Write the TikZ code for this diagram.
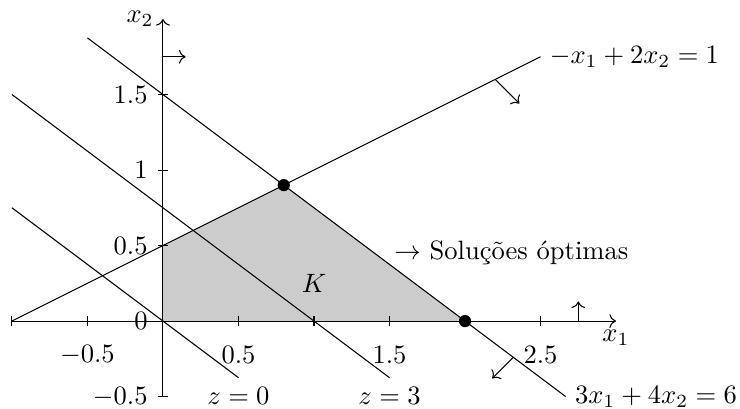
\documentclass[tikz,border=0pt]{standalone}
\usepackage{amsmath,amssymb}
\usetikzlibrary{arrows.meta,positioning,calc}
\tikzset{
axisline/.style={->, thin},
tickmark/.style={thin},
constraint/.style={thin, draw=black},
levelline/.style={thin, draw=black},
feasible/.style={fill=black!20, draw=none},
vertexdot/.style={circle, fill=black, inner sep=0pt, minimum size=4.6pt},
halfplane/.style={->, thin}
}

\begin{document}
\begin{tikzpicture}[x=2cm, y=2cm]
  \useasboundingbox (-1.079,-0.576) rectangle (3.821,2.126);
  % feasible region
  \fill[feasible] (0,0) -- (0,0.5) -- (0.8,0.9) -- (2,0) -- cycle;
  \node (K) at (1,0.25) {$K$};
  % axes and ticks
  \draw[axisline] (-1,0) -- (3,0) node[below] (xlab) {$x_1$};
  \draw[axisline] (0,-0.5) -- (0,2) node[left] (ylab) {$x_2$};
  \foreach \x in {-1,-0.5,0.5,1,1.5,2,2.5}
    \draw[tickmark] (\x,0) ++(0,-2pt) -- ++(0,4pt);
  \foreach \y in {-0.5,0.5,1,1.5}
    \draw[tickmark] (0,\y) ++(-2pt,0) -- ++(4pt,0);
  \foreach \x in {-0.5,0.5,1.5,2.5}
    \node (xt\x) at (\x,-0.225) {$\x$};
  \foreach \y in {-0.5,0,0.5,1,1.5}
    \node[left] (yt\y) at (-0.04,\y) {$\y$};
  % constraints
  \draw[constraint] (-1,0) -- (2.5,1.75) node[right] (c1) {$-x_1+2x_2=1$};
  \draw[constraint] (-0.5,1.875) -- (8/3,-0.5) node[right] (c2) {$3x_1+4x_2=6$};
  % level lines of z
  \draw[levelline] (-1,0.75) -- (0.5,-0.375) node[below] (z0) {$z=0$};
  \draw[levelline] (-1,1.5) -- (1.5,-0.375) node[below] (z3) {$z=3$};
  % half-planes
  \draw[halfplane] (0,1.75) -- ++(0.15,0);
  \draw[halfplane] (2.75,0) -- ++(0,0.13);
  \draw[halfplane] (2.2,1.6) -- ++(0.16,-0.16);
  \draw[halfplane] (2.32,-0.24) -- ++(-0.14,-0.14);
  % optimal vertices
  \node[vertexdot] (top) at (0.8,0.9) {};
  \node[vertexdot] (corner) at (2,0) {};
  \node[right] (sol) at (1.47,0.45) {$\rightarrow$ Soluções óptimas};
\end{tikzpicture}
\end{document}
